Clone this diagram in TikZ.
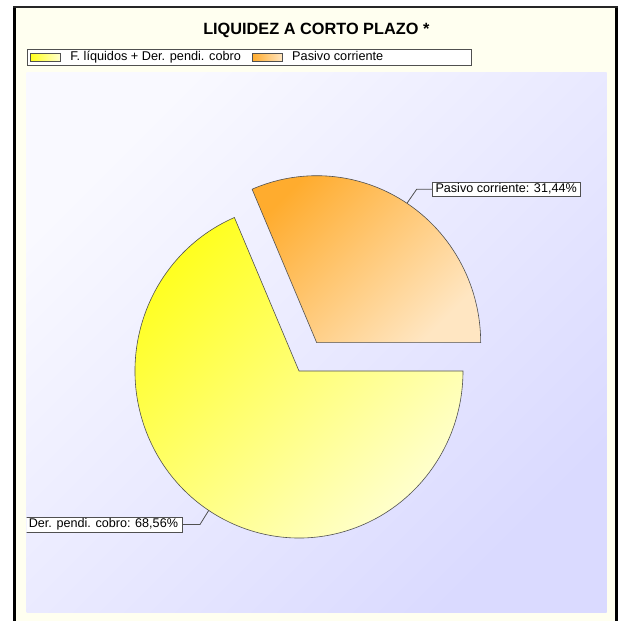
\documentclass[tikz,border=0pt]{standalone}
\usepackage{fontspec}
\setmainfont{Liberation Sans}
\usepackage{xcolor}
\usepackage{tikz}
\usetikzlibrary{positioning, calc}

\definecolor{crema}{HTML}{FFFFF0}
\definecolor{lavclaro}{HTML}{F9F9FF}
\definecolor{lavoscuro}{HTML}{DADAFF}
\definecolor{amarillo}{HTML}{FFFF1E}
\definecolor{amarillopal}{HTML}{FFFFD2}
\definecolor{naranja}{HTML}{FFAC2E}
\definecolor{naranjapal}{HTML}{FFE6C2}
\definecolor{borde}{HTML}{505050}

\begin{document}
\begin{tikzpicture}[x=1pt,y=1pt]
						\tikzstyle{etiqueta}=[draw=borde,fill=white,inner xsep=3pt,inner ysep=1.5pt,text height=9pt,text depth=2.5pt,font=\fontsize{12.6}{15}\selectfont]
						\tikzstyle{leyenda}=[inner sep=0pt,text height=9pt,text depth=2.5pt,font=\fontsize{12.7}{15}\selectfont]
						\tikzstyle{muestra}=[draw=borde,line width=0.8pt,minimum width=30pt,minimum height=8pt,inner sep=0pt]
						\tikzstyle{guia}=[draw=borde,line width=0.8pt]
						\tikzstyle{sector}=[draw=borde,line width=0.6pt]
						\useasboundingbox (0,0) rectangle (620,621);
						\fill[crema] (16,0) rectangle (615,613);
						\draw[line width=3pt] (14.5,0) -- (14.5,613.5);
						\draw[line width=3pt] (616.5,0) -- (616.5,613.5);
						\draw[line width=2pt,black!85] (13,613.7) -- (618,613.7);
						\shade[top color=lavclaro,bottom color=lavoscuro,shading angle=45] (26.7,8) rectangle (606.7,548.3);
						\node[anchor=base,font=\fontsize{16.3}{18}\selectfont\bfseries](titulo) at (316.3,586.7) {LIQUIDEZ A CORTO PLAZO *};
						\node[draw=borde,fill=white,minimum width=444.6pt,minimum height=16pt,inner sep=0pt,anchor=south west](caja) at (26.7,555.7) {};
						\node[muestra,left color=amarillo,right color=amarillopal](m1) at (45.7,563.7) {};
						\node[leyenda,right=9pt of m1](t1) {F. líquidos + Der. pendi. cobro};
						\node[muestra,left color=naranja,right color=naranjapal,right=11pt of t1](m2) {};
						\node[leyenda,right=9pt of m2](t2) {Pasivo corriente};
						\coordinate (cy) at (299,250);
						\coordinate (cn) at (316.7,278.3);
						\shadedraw[sector,top color=amarillo,bottom color=amarillopal,shading angle=45] (cy) -- ++(113.2:164pt and 167pt) arc[start angle=113.2,end angle=360,x radius=164pt,y radius=167pt] -- cycle;
						\shadedraw[sector,top color=naranja,bottom color=naranjapal,shading angle=45] (cn) -- ++(0:164pt and 167pt) arc[start angle=0,end angle=113.2,x radius=164pt,y radius=167pt] -- cycle;
						\coordinate (pn) at ($(cn)+(56.6:164pt and 167pt)$);
						\coordinate (qn) at (416.7,431.8);
						\node[etiqueta,anchor=west](en) at (432.3,431.8) {Pasivo corriente: 31,44\%};
						\draw[guia](pn) -- (qn) -- (en.west);
						\coordinate (py) at ($(cy)+(236.6:164pt and 167pt)$);
						\coordinate (qy) at (200,96.5);
						\begin{scope}
						\clip (26.7,8) rectangle (606.7,548.3);
						\node[etiqueta,inner xsep=4.5pt,anchor=east](ey) at (182.7,96.5) {F. líquidos + Der. pendi. cobro: 68,56\%};
						\end{scope}
						\draw[guia](py) -- (qy) -- (ey.east);
					\end{tikzpicture}
\end{document}
